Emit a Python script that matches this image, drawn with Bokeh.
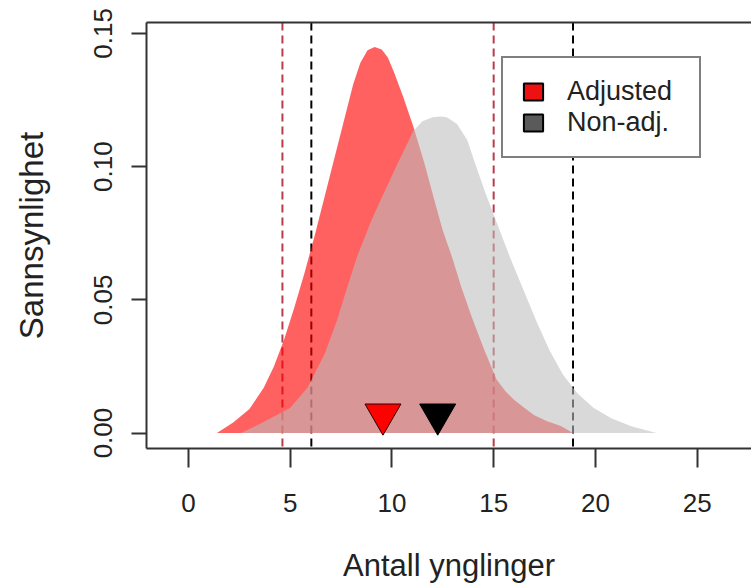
from bokeh.plotting import figure
from bokeh.models import (Range1d, FixedTicker, NumeralTickFormatter, LinearAxis,
                          Span, Legend, LegendItem)
from bokeh.embed import file_html
from bokeh.resources import INLINE

# ---- data ----
adj_x = [1.4, 2.2, 3.0, 3.7, 4.2, 4.7, 5.2, 5.7, 6.2, 6.7, 7.2, 7.7, 8.1, 8.45, 8.8,
         9.15, 9.5, 9.8, 10.1, 10.57, 11.06, 11.6, 12.05, 12.5, 13.0, 13.4, 13.95,
         14.55, 15.15, 15.6, 16.0, 16.5, 17.0, 17.6, 18.3, 18.9]
adj_y = [0.0, 0.0040, 0.0090, 0.0170, 0.0250, 0.0350, 0.0470, 0.0600, 0.0740, 0.0890,
         0.1040, 0.1190, 0.1310, 0.1390, 0.1437, 0.1449, 0.1440, 0.1410, 0.1355, 0.1259,
         0.1149, 0.1012, 0.0884, 0.0760, 0.0650, 0.0550, 0.0430, 0.0310, 0.0200, 0.0155,
         0.0125, 0.0095, 0.0067, 0.0045, 0.0026, 0.0]

nonadj_x = [2.6, 3.5, 5.0, 5.85, 6.7, 7.3, 7.8, 8.3, 8.95, 9.5, 10.3, 11.06, 11.5, 12.0,
            12.4, 12.7, 13.2, 13.7, 14.1, 14.6, 15.2, 15.8, 16.45, 17.1, 17.75, 18.4,
            19.1, 19.9, 20.8, 21.8, 23.0]
nonadj_y = [0.0, 0.0034, 0.0094, 0.0170, 0.0298, 0.0422, 0.0546, 0.0665, 0.0790, 0.0884,
            0.1015, 0.1135, 0.1170, 0.1185, 0.1188, 0.1185, 0.1160, 0.1100, 0.1010, 0.0900,
            0.0780, 0.0660, 0.0540, 0.0420, 0.0310, 0.0220, 0.0150, 0.0095, 0.0055, 0.0025,
            0.0]

adj_ci = [4.62, 15.0]
nonadj_ci = [6.04, 18.9]
adj_mean = [9.56]
nonadj_mean = [12.25]
marker_y = [0.007]

x_ticks = [0, 5, 10, 15, 20, 25]
y_ticks = [0.0, 0.05, 0.10, 0.15]
legend_labels = ["Adjusted", "Non-adj."]

FONT = "Liberation Sans"
AX = "#333333"

p = figure(width=751, height=588, output_backend="svg", toolbar_location=None,
           x_range=Range1d(-2.06, 27.67), y_range=Range1d(-0.0058, 0.1541),
           min_border_left=146, min_border_right=0, min_border_top=22,
           min_border_bottom=140)
p.outline_line_color = None
p.xgrid.visible = False
p.ygrid.visible = False
p.background_fill_color = "white"
p.border_fill_color = "white"

xax = p.below[0]
yax = p.left[0]
for ax in (xax, yax):
    ax.axis_line_color = AX
    ax.axis_line_width = 2
    ax.major_tick_line_color = AX
    ax.major_tick_line_width = 2
    ax.minor_tick_line_color = None
    ax.major_tick_in = 0
    ax.major_label_text_font = FONT
    ax.major_label_text_font_size = "26px"
    ax.major_label_text_color = "#222222"
    ax.axis_label_text_font = FONT
    ax.axis_label_text_font_style = "normal"
    ax.axis_label_text_color = "#222222"

xax.ticker = FixedTicker(ticks=x_ticks)
xax.major_tick_out = 19
xax.major_label_standoff = 26
xax.axis_label = "Antall ynglinger"
xax.axis_label_text_font_size = "31px"
xax.axis_label_standoff = 33

yax.ticker = FixedTicker(ticks=y_ticks)
yax.formatter = NumeralTickFormatter(format="0.00")
yax.major_label_orientation = "vertical"
yax.major_tick_out = 15
yax.major_label_standoff = 19
yax.axis_label = "Sannsynlighet"
yax.axis_label_text_font_size = "33px"
yax.axis_label_standoff = 42

# top frame line
top_axis = LinearAxis(ticker=FixedTicker(ticks=[]), axis_line_color=AX,
                      axis_line_width=2, major_tick_line_color=None,
                      minor_tick_line_color=None, major_label_text_font_size="0px")
p.add_layout(top_axis, "above")

# dashed interval lines (under the fills)
for v in adj_ci:
    p.add_layout(Span(location=v, dimension="height", line_color="#b83c4a",
                      line_width=2, line_dash="8 5", level="underlay"))
for v in nonadj_ci:
    p.add_layout(Span(location=v, dimension="height", line_color="black",
                      line_width=2, line_dash="8 5", level="underlay"))

# density fills
p.patch(adj_x, adj_y, fill_color="red", fill_alpha=0.62, line_color=None)
p.patch(nonadj_x, nonadj_y, fill_color="#bebebe", fill_alpha=0.58, line_color=None)

# legend key swatches (zero-size, hidden under the mean markers)
leg_adj = p.rect(x=adj_mean, y=marker_y, width=0, height=0, fill_color="#ee1111",
                 line_color="black", line_width=2)
leg_non = p.rect(x=nonadj_mean, y=marker_y, width=0, height=0, fill_color="#5a5a5a",
                 line_color="black", line_width=2)

# mean markers
p.scatter(adj_mean, marker_y, marker="inverted_triangle", size=36,
          fill_color="red", line_color="#300000", line_width=1)
p.scatter(nonadj_mean, marker_y, marker="inverted_triangle", size=36,
          fill_color="black", line_color="black", line_width=1)

legend = Legend(items=[LegendItem(label=legend_labels[0], renderers=[leg_adj]),
                       LegendItem(label=legend_labels[1], renderers=[leg_non])],
                location=(355, 290), border_line_color="black", border_line_width=2,
                background_fill_color="white", background_fill_alpha=1.0,
                padding=18, spacing=0, margin=0, glyph_width=24, glyph_height=21,
                label_standoff=22, label_width=114, label_text_font=FONT,
                label_text_font_size="27px", label_text_color="#222222")
p.add_layout(legend)

open("out.html", "w").write(file_html(p, INLINE))
